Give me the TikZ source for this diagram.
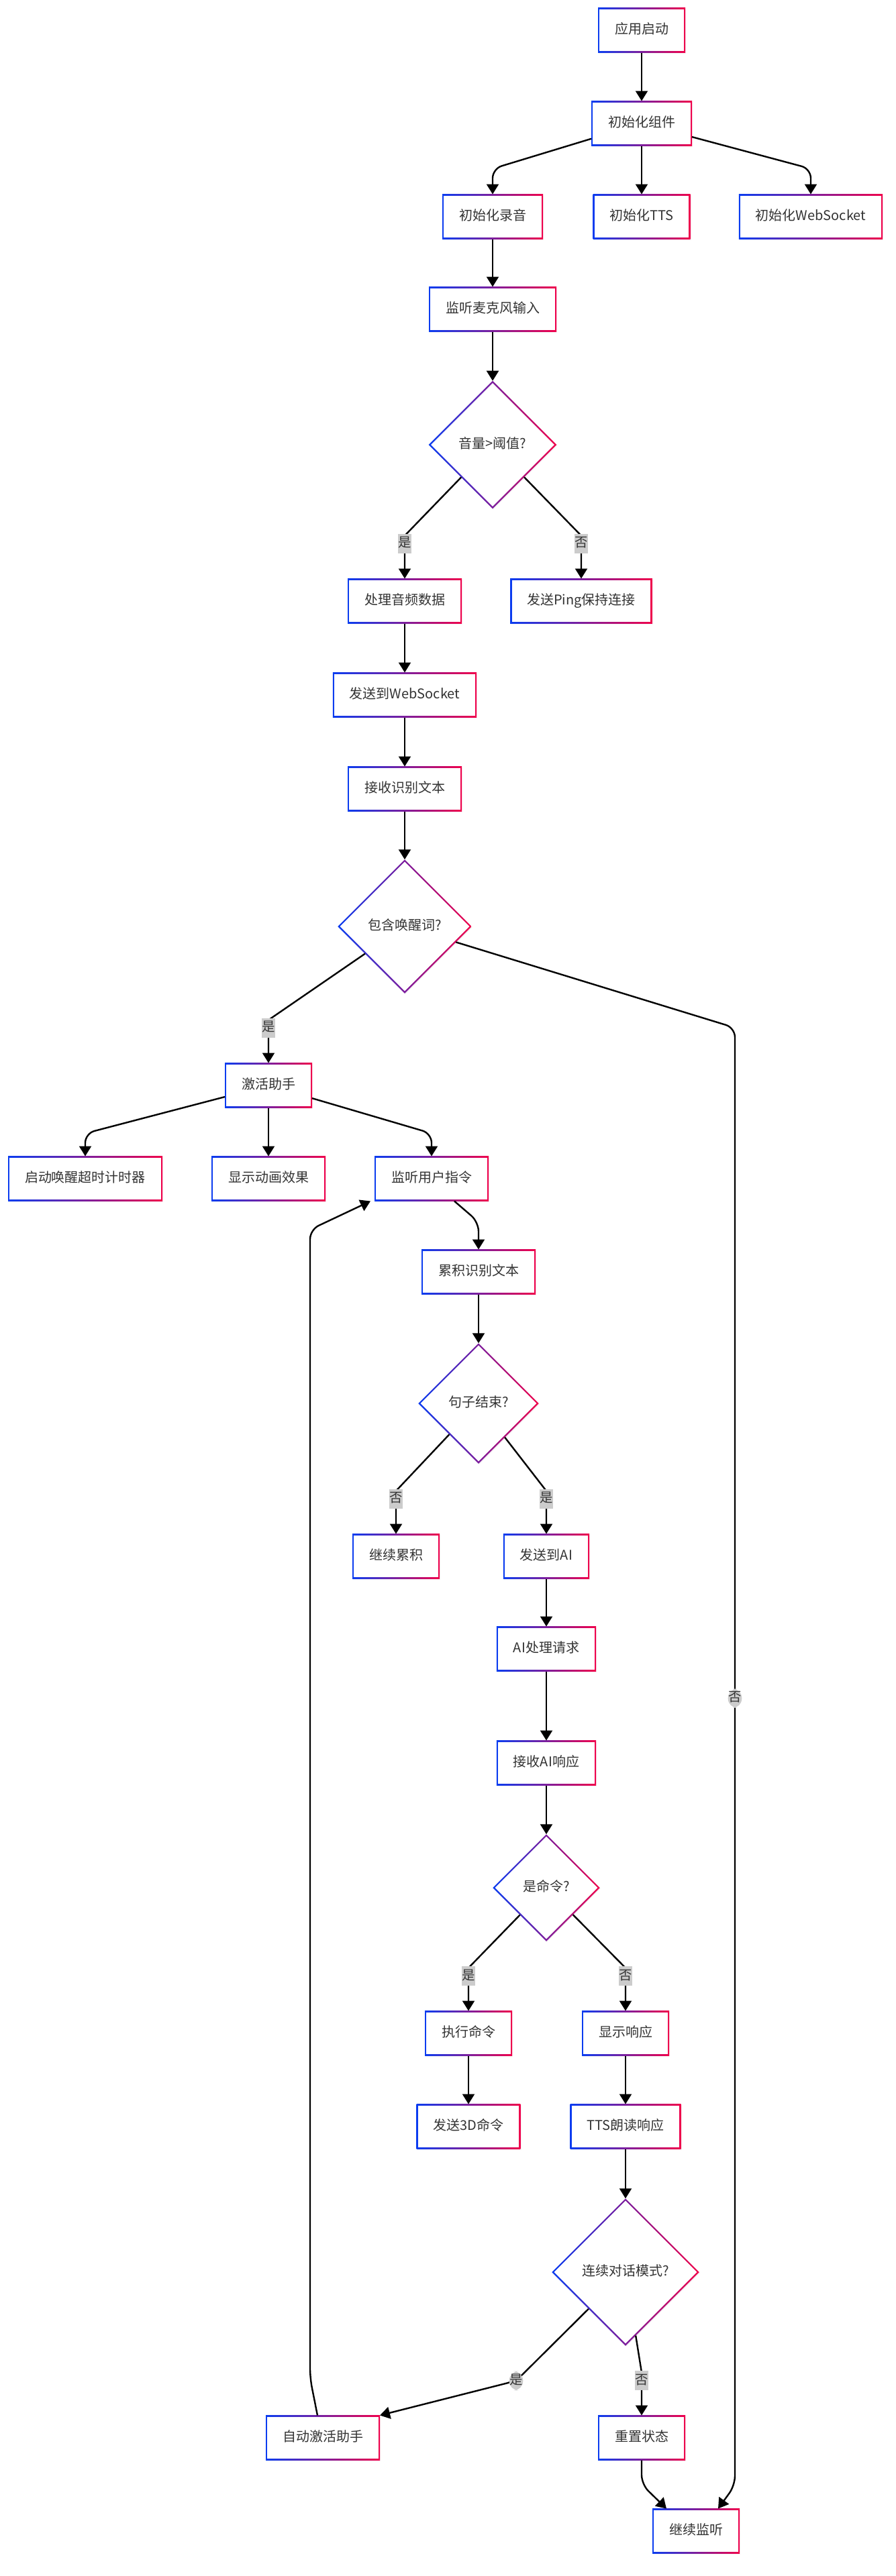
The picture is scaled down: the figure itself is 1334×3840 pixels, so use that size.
\documentclass[tikz,border=0pt]{standalone}
\usepackage{fontspec}
\setmainfont{Noto Sans CJK SC}
\usetikzlibrary{shapes.geometric,arrows.meta,calc,shadows}
\definecolor{edgeblue}{RGB}{10,60,240}
\definecolor{edgered}{RGB}{240,0,75}
\definecolor{inktext}{RGB}{51,51,51}
\tikzset{box/.style={rectangle, left color=edgeblue, right color=edgered,
         minimum height=33.5pt, inner xsep=12.5pt, inner ysep=0pt, outer sep=0pt,
         text height=7.5pt, text depth=2.5pt, text=inktext,
         drop shadow={opacity=.08, shadow xshift=.6pt, shadow yshift=-.6pt},
         path picture={\fill[white] ([shift={(1.2pt,-1.2pt)}]path picture bounding box.north west)
            rectangle ([shift={(-1.2pt,1.2pt)}]path picture bounding box.south east);}},
         decision/.style={diamond, aspect=1, left color=edgeblue, right color=edgered,
         inner sep=8.75pt, outer sep=0pt, text height=7.5pt, text depth=2.5pt, text=inktext,
         drop shadow={opacity=.08, shadow xshift=.6pt, shadow yshift=-.6pt},
         path picture={\fill[white] ([yshift=-1.7pt]path picture bounding box.north)
            -- ([xshift=-1.7pt]path picture bounding box.east)
            -- ([yshift=1.7pt]path picture bounding box.south)
            -- ([xshift=1.7pt]path picture bounding box.west) -- cycle;}},
         flow/.style={draw=black, line width=1.2pt, -{Triangle[width=9pt,length=7.5pt]}},
         elbow/.style={flow, rounded corners=7pt},
         answer/.style={fill=black!20, text=inktext, inner xsep=.3pt, inner ysep=2.5pt,
         outer sep=0pt, font=\fontsize{9.7}{10}\selectfont, text height=7.3pt, text depth=2pt}}

\begin{document}
\begin{tikzpicture}[x=0.5pt,y=-0.5pt]
    \fill[white] (0,0) rectangle (1334,3840);
    \useasboundingbox (0,0) rectangle (1334,3840);

    % start-up and audio capture
    \node[box] (start) at (956,45) {应用启动};
    \node[box] (init) at (956,184) {初始化组件};
    \node[box] (rec) at (734,323) {初始化录音};
    \node[box] (tts) at (956,323) {初始化TTS};
    \node[box] (ws) at (1208,323) {初始化WebSocket};
    \node[box] (mic) at (734,461) {监听麦克风输入};
    \node[decision] (vol) at (734,663) {音量>阈值?};
    \node[box] (proc) at (603,896) {处理音频数据};
    \node[box] (ping) at (866,896) {发送Ping保持连接};
    \node[box] (sendws) at (603,1036) {发送到WebSocket};
    \node[box] (recv) at (603,1176) {接收识别文本};
    \node[decision] (wake) at (603,1381) {包含唤醒词?};

    % assistant session
    \node[box] (act) at (400,1618) {激活助手};
    \node[box] (timer) at (127,1757) {启动唤醒超时计时器};
    \node[box] (anim) at (400,1757) {显示动画效果};
    \node[box] (listen) at (643,1757) {监听用户指令};
    \node[box] (accum) at (713,1896) {累积识别文本};
    \node[decision] (endq) at (713,2092) {句子结束?};
    \node[box] (cont) at (590,2320) {继续累积};
    \node[box] (toai) at (814,2320) {发送到AI};
    \node[box] (aiproc) at (814,2458) {AI处理请求};
    \node[box] (airesp) at (814,2628) {接收AI响应};
    \node[decision] (cmdq) at (814,2814) {是命令?};
    \node[box] (exec) at (698,3031) {执行命令};
    \node[box] (show) at (932,3031) {显示响应};
    \node[box] (send3d) at (698,3170) {发送3D命令};
    \node[box] (ttsread) at (932,3170) {TTS朗读响应};
    \node[decision] (dialog) at (932,3387) {连续对话模式?};
    \node[box] (autoact) at (481,3634) {自动激活助手};
    \node[box] (reset) at (956,3634) {重置状态};
    \node[box] (contlisten) at (1037,3773) {继续监听};

    \coordinate (nobend) at (1095,1532);
    \coordinate (nodrop) at (1095,3705);
    \coordinate (yesbend) at (769,3549);
    \coordinate (loopfoot) at (462,3545);
    \coordinate (loophead) at (462,1833);

    \draw[flow] (start) -- (init);
    \draw[elbow] (init) -- ($(rec.north)+(0,-38)$) -- (rec);
    \draw[flow] (init) -- (tts);
    \draw[elbow] (init) -- ($(ws.north)+(0,-38)$) -- (ws);
    \draw[flow] (rec) -- (mic);
    \draw[flow] (mic) -- (vol);
    \draw[flow] (vol) -- ($(proc.north)+(0,-64)$) -- node[answer, pos=.19] {是} (proc);
    \draw[flow] (vol) -- ($(ping.north)+(0,-64)$) -- node[answer, pos=.19] {否} (ping);
    \draw[flow] (proc) -- (sendws);
    \draw[flow] (sendws) -- (recv);
    \draw[flow] (recv) -- (wake);
    \draw[flow] (wake) -- ($(act.north)+(0,-64)$) -- node[answer, pos=.19] {是} (act);
    \draw[elbow] (wake) -- (nobend) -- node[answer, pos=.46] {否} (nodrop)
          -- ([xshift=-16pt]contlisten.north east);

    \draw[elbow] (act) -- ($(timer.north)+(0,-34)$) -- (timer);
    \draw[flow] (act) -- (anim);
    \draw[elbow] (act) -- ($(listen.north)+(0,-34)$) -- (listen);
    \draw[elbow] ([xshift=17pt]listen.south) -- ($(accum.north)+(0,-41)$) -- (accum);
    \draw[flow] (accum) -- (endq);
    \draw[flow] (endq) -- ($(cont.north)+(0,-64)$) -- node[answer, pos=.19] {否} (cont);
    \draw[flow] (endq) -- ($(toai.north)+(0,-64)$) -- node[answer, pos=.19] {是} (toai);
    \draw[flow] (toai) -- (aiproc);
    \draw[flow] (aiproc) -- (airesp);
    \draw[flow] (airesp) -- (cmdq);
    \draw[flow] (cmdq) -- ($(exec.north)+(0,-64)$) -- node[answer, pos=.19] {是} (exec);
    \draw[flow] (cmdq) -- ($(show.north)+(0,-64)$) -- node[answer, pos=.19] {否} (show);
    \draw[flow] (exec) -- (send3d);
    \draw[flow] (show) -- (ttsread);
    \draw[flow] (ttsread) -- (dialog);
    \draw[elbow] (dialog) -- (yesbend) node[answer] {是} -- (autoact.north east);
    \draw[flow] (dialog) -- ($(reset.north)+(0,-64)$) -- node[answer, pos=.19] {否} (reset);
    \draw[elbow] ([xshift=-4pt]autoact.north) -- (loopfoot) -- (loophead)
          -- ([xshift=-3pt]listen.south west);
    \draw[elbow] (reset) -- ($(reset.south)+(0,36)$) -- ([xshift=-22pt]contlisten.north);
\end{tikzpicture}
\end{document}
